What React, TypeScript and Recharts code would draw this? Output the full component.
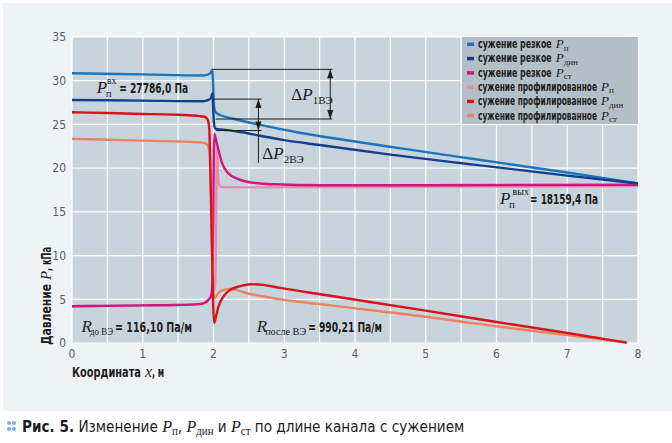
import React, { useLayoutEffect, useRef, useState } from 'react'
import { LineChart, Line, XAxis, YAxis, CartesianGrid, ReferenceLine, ReferenceDot } from 'recharts'

const SANS = '"Liberation Sans Narrow", "DejaVu Sans Condensed", Roboto, sans-serif'
const SERIF = '"Liberation Serif", "DejaVu Serif", serif'
const INK = '#1d1d1b'

const xTicks = [0, 1, 2, 3, 4, 5, 6, 7, 8]
const yTicks = [0, 5, 10, 15, 20, 25, 30, 35]
const gridX = [0, 0.5, 1, 1.5, 2, 2.5, 3, 3.5, 4, 4.5, 5, 5.5, 6, 6.5, 7, 7.5, 8]

// [x, м; P, кПа]
const sharpTotal = [
  [0, 30.85], [1, 30.72], [1.85, 30.6], [1.93, 30.72], [1.965, 30.95], [1.985, 31.3],
  [1.995, 29.5], [2.005, 27.4], [2.02, 26.5], [2.05, 26.25], [2.1, 26.05], [2.28, 25.65],
  [2.66, 24.95], [3.22, 24.05], [3.79, 23.3], [4.7, 22.2], [5.63, 21.1], [7, 19.5], [8, 18.25],
]
const sharpDyn = [
  [0, 27.8], [1, 27.72], [1.85, 27.65], [1.93, 27.8], [1.965, 28.05], [1.985, 28.55],
  [1.995, 27], [2.005, 25.3], [2.02, 24.6], [2.05, 24.45], [2.2, 24.35], [2.4, 24.1],
  [2.66, 23.7], [3, 23.2], [3.5, 22.65], [4.5, 21.55], [5.63, 20.45], [7, 19.15], [8, 18.25],
]
const sharpStatic = [
  [0, 4.2], [0.5, 4.25], [1, 4.3], [1.5, 4.35], [1.8, 4.45], [1.88, 4.6], [1.93, 4.95],
  [1.965, 5.4], [1.985, 7], [1.995, 14], [2.005, 21.5], [2.012, 23.9], [2.03, 23.4],
  [2.07, 22.1], [2.12, 20.6], [2.21, 19.4], [2.35, 18.75], [2.59, 18.3], [2.87, 18.15],
  [3.5, 18.05], [5, 18.05], [8, 18.1],
]
const profTotal = [
  [0, 4.2], [1, 4.3], [1.8, 4.45], [1.93, 4.95], [1.98, 5.5], [2.02, 6.5], [2.035, 12],
  [2.045, 21.5], [2.05, 22.3], [2.058, 21], [2.066, 19], [2.08, 18.1], [2.11, 17.85],
  [2.5, 17.8], [4, 17.85], [8, 17.95],
]
const profDyn = [
  [0, 26.4], [0.5, 26.3], [1, 26.2], [1.5, 26.1], [1.8, 25.95], [1.88, 25.85], [1.92, 25.5],
  [1.94, 24.5], [1.96, 18], [1.98, 10], [1.995, 4.5], [2.01, 2.3], [2.04, 3.2], [2.07, 4.15],
  [2.14, 5.3], [2.23, 6.05], [2.38, 6.5], [2.52, 6.72], [2.7, 6.65], [2.94, 6.3], [3.65, 5.4],
  [5, 3.7], [6, 2.4], [7, 1.15], [7.84, 0.05],
]
const profStatic = [
  [0, 23.35], [0.5, 23.25], [1, 23.15], [1.5, 23.05], [1.8, 22.95], [1.88, 22.85], [1.92, 22.6],
  [1.945, 21.8], [1.965, 17], [1.985, 10], [2, 6], [2.015, 5.1], [2.04, 5.4], [2.1, 5.95],
  [2.23, 6.18], [2.52, 5.6], [2.94, 5], [3.65, 4.3], [5, 3], [6, 1.9], [7, 0.9], [7.84, 0.05],
]

const series = [
  { key: 'sharpTotal', label: 'сужение резкое', sub: 'п', color: '#1c74bb', data: sharpTotal },
  { key: 'sharpDyn', label: 'сужение резкое', sub: 'дин', color: '#143f8c', data: sharpDyn },
  { key: 'sharpStatic', label: 'сужение резкое', sub: 'ст', color: '#d3167f', data: sharpStatic },
  { key: 'profTotal', label: 'сужение профилированное', sub: 'п', color: '#e78bb2', data: profTotal },
  { key: 'profDyn', label: 'сужение профилированное', sub: 'дин', color: '#d8131c', data: profDyn },
  { key: 'profStatic', label: 'сужение профилированное', sub: 'ст', color: '#e9845e', data: profStatic },
]
const drawOrder = ['profTotal', 'sharpStatic', 'profStatic', 'profDyn', 'sharpTotal', 'sharpDyn']

// выносные линии ΔP
const dimLines = [
  [[1.99, 31.3], [3.68, 31.3]],
  [[2.03, 25.62], [3.68, 25.62]],
  [[2.0, 27.9], [2.68, 27.9]],
  [[2.04, 24.3], [2.68, 24.3]],
]
const dimArrows = [
  [[3.65, 31.3], [3.65, 25.62]],
  [[2.635, 27.9], [2.635, 24.3]],
]
const leader = [[2.635, 24.3], [2.635, 20.6]]

const toPoints = (pairs: number[][]) => pairs.map(([x, y]) => ({ x, y }))
const seg = (p: number[][]) => p.map(([x, y]) => ({ x, y }))

function Arrow(props: any) {
  const { x1, y1, x2, y2 } = props
  const h = 9
  const w = 3
  return (
    <g>
      <line x1={x1} y1={y1} x2={x2} y2={y2} stroke={INK} strokeWidth={1} />
      <polygon points={`${x1},${y1} ${x1 - w},${y1 + h} ${x1 + w},${y1 + h}`} fill={INK} />
      <polygon points={`${x2},${y2} ${x2 - w},${y2 - h} ${x2 + w},${y2 - h}`} fill={INK} />
    </g>
  )
}

// squeezes a text horizontally to the width it has in the reference
function FitText({ x, y, width, children, ...rest }: any) {
  const ref = useRef<SVGTextElement>(null)
  const [k, setK] = useState(1)
  useLayoutEffect(() => {
    const el = ref.current
    if (!el) return
    const n = el.getComputedTextLength()
    if (n > 0) setK(width / n)
  }, [width, children])
  return (
    <g transform={`translate(${x},${y}) scale(${k},1)`}>
      <text ref={ref} x={0} y={0} {...rest}>{children}</text>
    </g>
  )
}

const serif = { fontFamily: SERIF }
const boldSans = { fontFamily: SANS, fontWeight: 700, fontSize: 13.5 }

function PLabel({ cx, cy, sub, sup, supDx, value, valueDx, valueW }: any) {
  return (
    <g fill={INK}>
      <text x={cx} y={cy} {...serif} fontStyle="italic" fontSize={17}>P</text>
      <text x={cx + 9} y={cy + 4} {...serif} fontSize={11}>{sub}</text>
      <text x={cx + supDx} y={cy - 9} {...serif} fontSize={10}>{sup}</text>
      <FitText x={cx + valueDx} y={cy} width={valueW} {...boldSans}>{value}</FitText>
    </g>
  )
}

function RLabel({ cx, cy, sub, subW, value, valueDx, valueW }: any) {
  return (
    <g fill={INK}>
      <text x={cx} y={cy} {...serif} fontStyle="italic" fontSize={17}>R</text>
      <FitText x={cx + 8.5} y={cy + 3} width={subW} {...serif} fontSize={11}>{sub}</FitText>
      <FitText x={cx + valueDx} y={cy} width={valueW} {...boldSans}>{value}</FitText>
    </g>
  )
}

function DLabel({ cx, cy, sub }: any) {
  return (
    <text x={cx} y={cy} fill={INK} {...serif}>
      <tspan fontSize={17}>Δ</tspan>
      <tspan fontStyle="italic" fontSize={17}>P</tspan>
      <tspan fontSize={11} dy={4}>{sub}</tspan>
    </text>
  )
}

function YTitle({ viewBox }: any) {
  const vb = viewBox ?? { x: 20, y: 37, width: 52, height: 306 }
  const x = vb.x + 31
  const y = vb.y + vb.height + 2
  return (
    <g transform={`translate(${x},${y}) rotate(-90)`} fill={INK}>
      <FitText x={0} y={0} width={61} {...boldSans} fontSize={14}>Давление</FitText>
      <text x={65} y={0} {...serif} fontStyle="italic" fontSize={15}>P</text>
      <FitText x={74} y={0} width={24} {...boldSans} fontSize={14}>, кПа</FitText>
    </g>
  )
}

function XTitle({ viewBox }: any) {
  const vb = viewBox ?? { x: 72, y: 343, width: 566, height: 30 }
  const x = vb.x
  const y = vb.y + 34
  return (
    <g fill={INK}>
      <FitText x={x} y={y} width={69} {...boldSans} fontSize={14}>Координата</FitText>
      <text x={x + 73} y={y} {...serif} fontStyle="italic" fontSize={16}>x</text>
      <FitText x={x + 80} y={y} width={12} {...boldSans} fontSize={14}>, м</FitText>
    </g>
  )
}

const tickStyle = { fill: '#5a5f63', fontSize: 12, fontFamily: SANS }

function Legend() {
  return (
    <svg width={176} height={87} style={{ position: 'absolute', left: 462, top: 37, background: '#b3bfc7' }}>
      {series.map((s, i) => {
        const y = 11 + i * 14.3
        const w = s.label.length > 15 ? 119 : 73.7
        return (
          <g key={s.key} fill={INK}>
            <rect x={5} y={y - 5.5} width={7} height={3.5} fill={s.color} />
            <FitText x={16} y={y} width={w} fontFamily={SANS} fontWeight={700} fontSize={12}>{s.label}</FitText>
            <text x={16 + w + 4} y={y} {...serif} fontStyle="italic" fontSize={13}>P</text>
            <text x={16 + w + 12} y={y + 2.5} {...serif} fontSize={9}>{s.sub}</text>
          </g>
        )
      })}
    </svg>
  )
}

function Sym({ sub, size = 17 }: { sub: string; size?: number }) {
  return (
    <span style={{ fontFamily: SERIF }}>
      <i style={{ fontSize: size }}>P</i>
      <span style={{ fontSize: size * 0.68, position: 'relative', top: 3 }}>{sub}</span>
    </span>
  )
}

export default function App() {
  return (
    <div style={{ position: 'absolute', left: 0, top: 0, width: 672, height: 443, background: '#fff', overflow: 'hidden' }}>
      <div style={{ position: 'absolute', left: 3, top: 3, width: 669, height: 408, background: '#eef3f6' }} />
      <div style={{ position: 'absolute', left: 0, top: 0 }}>
        <LineChart width={672} height={410} margin={{ top: 37, right: 34, bottom: 37, left: 20 }}>
          <CartesianGrid
            fill="#c8d4dc"
            fillOpacity={1}
            stroke="#ffffff"
            strokeWidth={1.2}
            verticalValues={gridX}
            horizontalValues={yTicks}
          />
          <XAxis
            type="number"
            dataKey="x"
            domain={[0, 8]}
            ticks={xTicks}
            axisLine={false}
            tickLine={false}
            tickSize={4}
            tickMargin={2}
            tick={tickStyle}
            height={30}
            allowDuplicatedCategory={false}
            label={<XTitle />}
          />
          <YAxis
            type="number"
            dataKey="y"
            domain={[0, 35]}
            ticks={yTicks}
            axisLine={false}
            tickLine={false}
            tickSize={4}
            tickMargin={2}
            tick={tickStyle}
            width={52}
            label={<YTitle />}
          />
          {drawOrder.map((k) => {
            const s = series.find((v) => v.key === k)!
            return (
              <Line
                key={k}
                data={toPoints(s.data)}
                dataKey="y"
                type="monotone"
                stroke={s.color}
                strokeWidth={2.4}
                dot={false}
                activeDot={false}
                isAnimationActive={false}
              />
            )
          })}
          {dimLines.map((p, i) => (
            <ReferenceLine key={'d' + i} segment={seg(p)} stroke={INK} strokeWidth={1} />
          ))}
          {dimArrows.map((p, i) => (
            <ReferenceLine key={'a' + i} segment={seg(p)} shape={Arrow} />
          ))}
          <ReferenceLine segment={seg(leader)} stroke={INK} strokeWidth={1} />
          <ReferenceDot x={0.35} y={28.55} r={0} shape={(p: any) => (
            <PLabel {...p} sub="п" sup="вх" supDx={10} value="= 27786,0 Па" valueDx={22.5} valueW={69} />
          )} />
          <ReferenceDot x={6.05} y={15.85} r={0} shape={(p: any) => (
            <PLabel {...p} sub="п" sup="вых" supDx={12.5} value="= 18159,4 Па" valueDx={30} valueW={68} />
          )} />
          <ReferenceDot x={0.135} y={1.22} r={0} shape={(p: any) => (
            <RLabel {...p} sub="до ВЭ" subW={23} value="= 116,10 Па/м" valueDx={33.5} valueW={77} />
          )} />
          <ReferenceDot x={2.61} y={1.22} r={0} shape={(p: any) => (
            <RLabel {...p} sub="после ВЭ" subW={41} value="= 990,21 Па/м" valueDx={51.5} valueW={74} />
          )} />
          <ReferenceDot x={3.1} y={27.75} r={0} shape={(p: any) => <DLabel {...p} sub="1ВЭ" />} />
          <ReferenceDot x={2.69} y={21.0} r={0} shape={(p: any) => <DLabel {...p} sub="2ВЭ" />} />
        </LineChart>
      </div>
      <Legend />
      <div style={{ position: 'absolute', left: 7, top: 421, width: 9, height: 12 }}>
        {[[0, 0], [5, 0], [0, 6], [5, 6]].map(([l, t], i) => (
          <span key={i} style={{ position: 'absolute', left: l, top: t, width: 3.5, height: 3.5, borderRadius: 2, background: '#7db1d8' }} />
        ))}
      </div>
      <div
        style={{
          position: 'absolute', left: 22, top: 417, fontFamily: SANS, fontSize: 16, color: INK,
          whiteSpace: 'nowrap', transform: 'scaleX(0.945)', transformOrigin: 'left center',
        }}
      >
        <b>Рис. 5.</b> Изменение <Sym sub="п" />, <Sym sub="дин" /> и <Sym sub="ст" /> по длине канала с сужением
      </div>
    </div>
  )
}
